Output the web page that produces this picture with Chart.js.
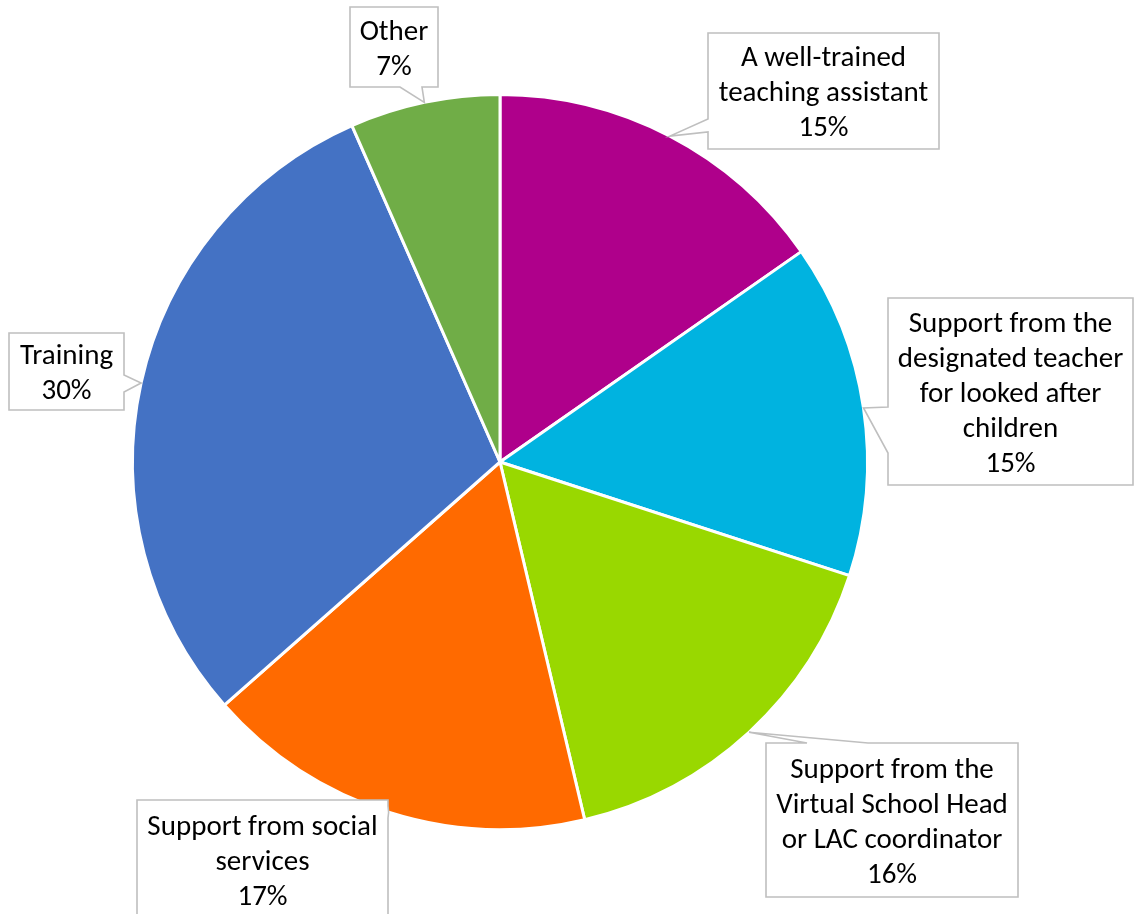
<!DOCTYPE html>
<html>
<head>
<meta charset="utf-8">
<style>
  html, body { margin: 0; padding: 0; background: #fff; }
  canvas { display: block; }
</style>
<script src="https://cdn.jsdelivr.net/npm/chart.js@4/dist/chart.umd.min.js"></script>
</head>
<body>
<canvas id="grafico" width="1135" height="914"></canvas>
<script>
// data (slice shares in %)
const categories = [
    ['A well-trained', 'teaching assistant'],
    ['Support from the', 'designated teacher', 'for looked after', 'children'],
    ['Support from the', 'Virtual School Head', 'or LAC coordinator'],
    ['Support from social', 'services'],
    ['Training'],
    ['Other']
];
const shares = [15.3, 14.7, 16.3, 17.2, 29.9, 6.6];
const sliceColors = ['#AF008B', '#00B3E0', '#99D800', '#FF6A00', '#4472C4', '#70AD47'];

// callout boxes: box rect + which edge carries the pointer and where its base sits
const callouts = [
    { x: 708, y: 33,  w: 231, h: 116, side: 'left',   a: 119, b: 132 },
    { x: 888, y: 298, w: 245, h: 187, side: 'left',   a: 407, b: 453 },
    { x: 766, y: 743, w: 252, h: 154, side: 'top',    a: 807, b: 868 },
    { x: 137, y: 800, w: 251, h: 120, side: 'right',  a: 806, b: 818 },
    { x: 9,   y: 333, w: 115, h: 77,  side: 'right',  a: 375, b: 392 },
    { x: 350, y: 7,   w: 88,  h: 80,  side: 'bottom', a: 400, b: 422 }
];

const FONT = '29px Carlito, Calibri, Lato, sans-serif';
const LINE_H = 35;
const TEXT_SHIFT = 3;

function calloutPath(ctx, c, tip) {
    const x0 = c.x, y0 = c.y, x1 = c.x + c.w, y1 = c.y + c.h;
    ctx.beginPath();
    ctx.moveTo(x0, y0);
    if (c.side === 'top') { ctx.lineTo(c.a, y0); ctx.lineTo(tip.x, tip.y); ctx.lineTo(c.b, y0); }
    ctx.lineTo(x1, y0);
    if (c.side === 'right') { ctx.lineTo(x1, c.a); ctx.lineTo(tip.x, tip.y); ctx.lineTo(x1, c.b); }
    ctx.lineTo(x1, y1);
    if (c.side === 'bottom') { ctx.lineTo(c.b, y1); ctx.lineTo(tip.x, tip.y); ctx.lineTo(c.a, y1); }
    ctx.lineTo(x0, y1);
    if (c.side === 'left') { ctx.lineTo(x0, c.b); ctx.lineTo(tip.x, tip.y); ctx.lineTo(x0, c.a); }
    ctx.closePath();
}

const calloutPlugin = {
    id: 'callouts',
    afterDatasetsDraw(chart) {
        const ctx = chart.ctx;
        const meta = chart.getDatasetMeta(0);
        const data = chart.data.datasets[0].data;
        const total = data.reduce((s, v) => s + v, 0);

        meta.data.forEach((arc, i) => {
            const p = arc.getProps(['x', 'y', 'startAngle', 'endAngle', 'outerRadius'], true);
            const mid = (p.startAngle + p.endAngle) / 2;
            const tip = {
                x: p.x + Math.cos(mid) * p.outerRadius,
                y: p.y + Math.sin(mid) * p.outerRadius
            };
            const c = callouts[i];

            ctx.save();
            calloutPath(ctx, c, tip);
            ctx.fillStyle = '#ffffff';
            ctx.fill();
            ctx.lineWidth = 1.6;
            ctx.strokeStyle = '#BFBFBF';
            ctx.stroke();

            const lines = chart.data.labels[i].concat([Math.round(data[i] / total * 100) + '%']);
            ctx.font = FONT;
            ctx.fillStyle = '#000000';
            ctx.textAlign = 'center';
            ctx.textBaseline = 'middle';
            const cx = c.x + c.w / 2;
            const cy = c.y + c.h / 2 + TEXT_SHIFT;
            const top = cy - (lines.length - 1) * LINE_H / 2;
            lines.forEach((t, k) => ctx.fillText(t, cx, top + k * LINE_H));
            ctx.restore();
        });
    }
};

const ctx = document.getElementById('grafico').getContext('2d');

new Chart(ctx, {
    type: 'pie',
    data: {
        labels: categories,
        datasets: [{
            data: shares,
            backgroundColor: sliceColors,
            borderColor: '#ffffff',
            borderWidth: 3
        }]
    },
    options: {
        responsive: false,
        animation: false,
        layout: { padding: { top: 93, bottom: 83, left: 131, right: 266 } },
        plugins: {
            legend: { display: false },
            tooltip: { enabled: false }
        }
    },
    plugins: [calloutPlugin]
});
</script>
</body>
</html>
